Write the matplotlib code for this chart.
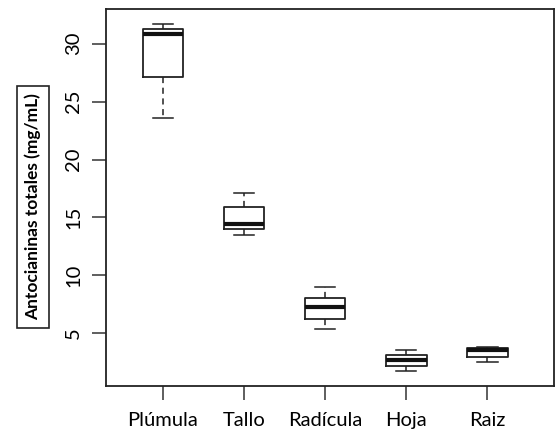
import matplotlib
matplotlib.use("Agg")
import matplotlib.pyplot as plt

plt.rcParams['font.family'] = ['Lato', 'DejaVu Sans']

categorias = ['Plúmula', 'Tallo', 'Radícula', 'Hoja', 'Raiz']
bigote_inf = [23.57, 13.52, 5.40, 1.72, 2.55]
cuartil_1 = [27.10, 13.98, 6.23, 2.18, 2.95]
mediana = [30.82, 14.44, 7.27, 2.67, 3.56]
cuartil_3 = [31.28, 15.88, 8.05, 3.10, 3.76]
bigote_sup = [31.71, 17.09, 9.00, 3.56, 3.78]

stats = []
for i in range(len(categorias)):
    stats.append({'label': categorias[i], 'whislo': bigote_inf[i], 'q1': cuartil_1[i],
                  'med': mediana[i], 'q3': cuartil_3[i], 'whishi': bigote_sup[i],
                  'fliers': []})

fig = plt.figure(figsize=(5.57, 4.30), dpi=100)
ax = fig.add_axes([106 / 557, 1 - 386 / 430, 448 / 557, 377 / 430])

ax.bxp(stats, positions=range(1, 6), widths=0.5, showfliers=False,
       boxprops=dict(color='#222222', linewidth=1.3),
       medianprops=dict(color='#111111', linewidth=3.0),
       whiskerprops=dict(color='#222222', linewidth=1.1, linestyle=(0, (4, 3))),
       capprops=dict(color='#222222', linewidth=1.1))

ax.set_xlim(0.3, 5.82)
ax.set_ylim(0.45, 33.0)
ax.set_yticks([5, 10, 15, 20, 25, 30])
ax.set_yticklabels(['5', '10', '15', '20', '25', '30'], rotation=90, va='center')
ax.set_xticks(range(1, 6))
ax.set_xticklabels(categorias)
ax.tick_params(axis='both', length=10, width=1.1, color='#333333', labelsize=14.5, pad=7)
ax.tick_params(axis='x', pad=9)
for s in ax.spines.values():
    s.set_linewidth(1.3)
    s.set_color('#222222')

fig.text(33 / 557, 1 - 207 / 430, 'Antocianinas totales (mg/mL)', rotation=90,
         ha='center', va='center', fontsize=12.5, fontweight='bold',
         bbox=dict(boxstyle='square,pad=0.45', facecolor='white', edgecolor='#222222', linewidth=1.2))

fig.savefig('out.png', dpi=100)
